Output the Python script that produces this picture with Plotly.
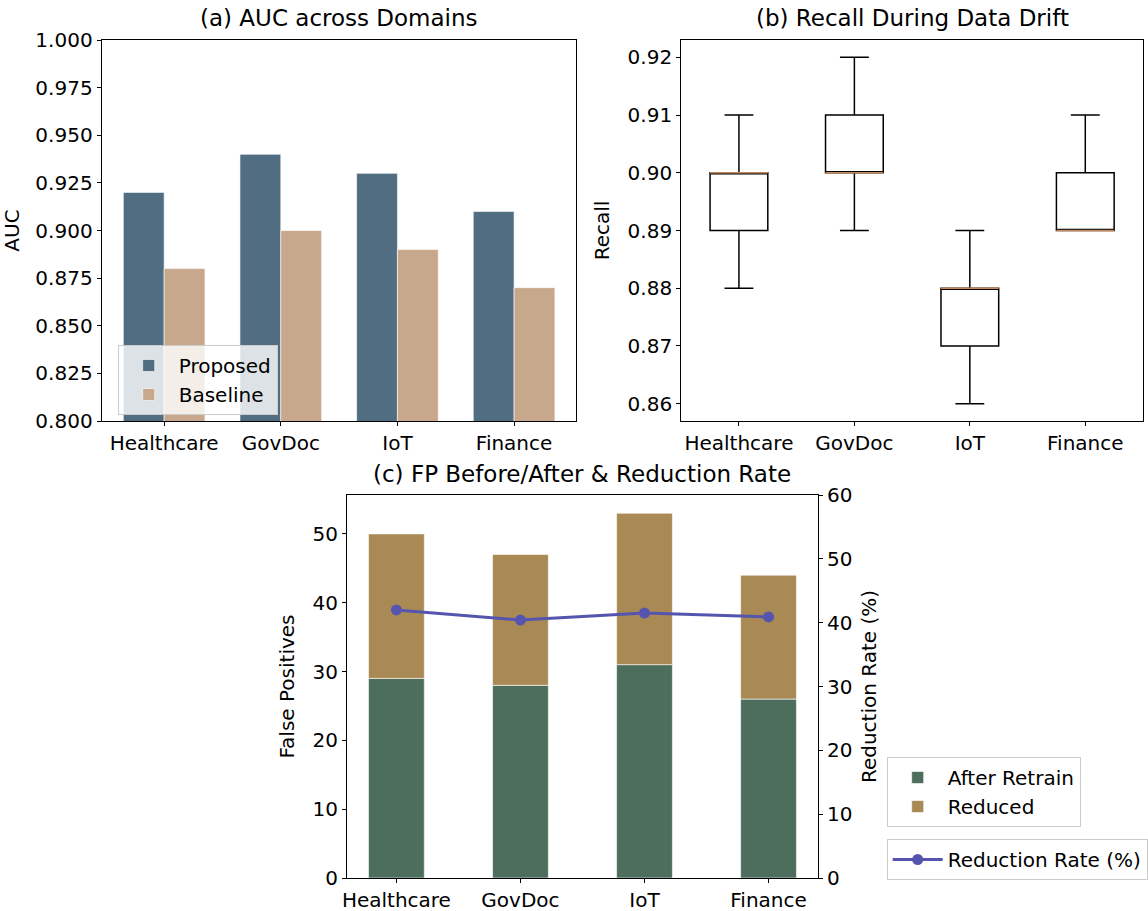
import plotly.graph_objects as go

domains = ["Healthcare", "GovDoc", "IoT", "Finance"]

# (a) AUC
auc_proposed = [0.92, 0.94, 0.93, 0.91]
auc_baseline = [0.88, 0.90, 0.89, 0.87]

# (b) Recall box stats
rec_low = [0.88, 0.89, 0.86, 0.89]
rec_q1 = [0.89, 0.90, 0.87, 0.89]
rec_med = [0.90, 0.90, 0.88, 0.89]
rec_q3 = [0.90, 0.91, 0.88, 0.90]
rec_high = [0.91, 0.92, 0.89, 0.91]

# (c) False positives
fp_after = [29, 28, 31, 26]
fp_reduced = [21, 19, 22, 18]
reduction_rate = [42.0, 40.4, 41.5, 40.9]

W, H = 1148, 911
def xd(a, b):
    return [a / W, b / W]
def yd(top, bot):
    return [1 - bot / H, 1 - top / H]

FONT = "DejaVu Sans"
TICK = 20
TITLE = 23
C_PROP = "#516d82"
C_BASE = "#c8a88c"
C_AFTER = "#4e6e5d"
C_RED = "#a98a55"
C_LINE = "#5555b0"

fig = go.Figure()
idx = list(range(len(domains)))
bw = 0.35

# (a)
fig.add_trace(go.Bar(x=[i - bw / 2 for i in idx], y=auc_proposed, width=bw, name="Proposed",
                     marker=dict(color=C_PROP, line=dict(color="white", width=0.6)),
                     xaxis="x", yaxis="y", legend="legend"))
fig.add_trace(go.Bar(x=[i + bw / 2 for i in idx], y=auc_baseline, width=bw, name="Baseline",
                     marker=dict(color=C_BASE, line=dict(color="white", width=0.6)),
                     xaxis="x", yaxis="y", legend="legend"))

# (b)
pos = [i + 1 for i in idx]
fig.add_trace(go.Box(x=pos, q1=rec_q1, median=rec_med, q3=rec_q3,
                     lowerfence=rec_low, upperfence=rec_high,
                     width=0.5, whiskerwidth=0.5, fillcolor="white",
                     line=dict(color="black", width=1.5), boxpoints=False,
                     showlegend=False, xaxis="x2", yaxis="y2"))
mx, my = [], []
for p, m in zip(pos, rec_med):
    mx += [p - 0.25, p + 0.25, None]
    my += [m, m, None]
fig.add_trace(go.Scatter(x=mx, y=my, mode="lines", line=dict(color="#c8895a", width=1.5),
                         showlegend=False, hoverinfo="skip", xaxis="x2", yaxis="y2"))

# (c)
cw = 0.45
fig.add_trace(go.Bar(x=idx, y=fp_after, width=cw, name="After Retrain",
                     marker=dict(color=C_AFTER, line=dict(color="white", width=0.6)),
                     xaxis="x3", yaxis="y3", legend="legend2"))
fig.add_trace(go.Bar(x=idx, y=fp_reduced, base=fp_after, width=cw, name="Reduced",
                     marker=dict(color=C_RED, line=dict(color="white", width=0.6)),
                     xaxis="x3", yaxis="y3", legend="legend2"))
fig.add_trace(go.Scatter(x=idx, y=reduction_rate, mode="lines+markers", name="Reduction Rate (%)",
                         line=dict(color=C_LINE, width=3), marker=dict(size=11, color=C_LINE),
                         xaxis="x3", yaxis="y4", legend="legend3"))

axis_common = dict(showline=True, linecolor="black", linewidth=1.2, mirror=True,
                   ticks="outside", ticklen=4, tickwidth=1.2, tickcolor="black",
                   showgrid=False, zeroline=False,
                   tickfont=dict(family=FONT, size=TICK, color="black"), automargin=False)

leg_common = dict(xanchor="left", yanchor="top", bgcolor="rgba(255,255,255,0.8)",
                  bordercolor="#cccccc", borderwidth=1, font=dict(family=FONT, size=TICK),
                  itemwidth=50, traceorder="normal")

fig.update_layout(
    width=W, height=H, margin=dict(l=0, r=0, t=0, b=0),
    paper_bgcolor="white", plot_bgcolor="white", barmode="overlay",
    font=dict(family=FONT, color="black"),
    xaxis=dict(domain=xd(102, 578), range=[-0.535, 3.535], tickvals=idx, ticktext=domains,
               anchor="y", **axis_common),
    yaxis=dict(domain=yd(40, 421), range=[0.8, 1.0], tickvals=[0.8 + 0.025 * k for k in range(9)],
               tickformat=".3f", anchor="x",
               title=dict(text="AUC", font=dict(family=FONT, size=TICK), standoff=12), **axis_common),
    xaxis2=dict(domain=xd(683, 1146), range=[0.5, 4.5], tickvals=pos, ticktext=domains,
                anchor="y2", **axis_common),
    yaxis2=dict(domain=yd(40, 421), range=[0.857, 0.923], tickvals=[0.86, 0.87, 0.88, 0.89, 0.90, 0.91, 0.92],
                tickformat=".2f", anchor="x2",
                title=dict(text="Recall", font=dict(family=FONT, size=TICK), standoff=12), **axis_common),
    xaxis3=dict(domain=xd(348, 820), range=[-0.3975, 3.3975], tickvals=idx, ticktext=domains,
                anchor="y3", **axis_common),
    yaxis3=dict(domain=yd(495, 878), range=[0, 55.65], tickvals=[0, 10, 20, 30, 40, 50],
                anchor="x3",
                title=dict(text="False Positives", font=dict(family=FONT, size=TICK), standoff=12),
                **{**axis_common, "mirror": False}),
    yaxis4=dict(domain=yd(495, 878), range=[0, 60], tickvals=[0, 10, 20, 30, 40, 50, 60],
                anchor="x3", overlaying="y3", side="right",
                title=dict(text="Reduction Rate (%)", font=dict(family=FONT, size=TICK), standoff=10),
                **{**axis_common, "mirror": False}),
    legend=dict(x=118 / W, y=1 - 345 / H, **leg_common),
    legend2=dict(x=889 / W, y=1 - 757 / H, **leg_common),
    legend3=dict(x=889 / W, y=1 - 839 / H, **leg_common),
    annotations=[
        dict(text="(a) AUC across Domains", x=(102 + 578) / 2 / W, y=1 - 33 / H, xref="paper", yref="paper",
             xanchor="center", yanchor="bottom", showarrow=False, font=dict(family=FONT, size=TITLE)),
        dict(text="(b) Recall During Data Drift", x=(683 + 1146) / 2 / W, y=1 - 33 / H, xref="paper", yref="paper",
             xanchor="center", yanchor="bottom", showarrow=False, font=dict(family=FONT, size=TITLE)),
        dict(text="(c) FP Before/After & Reduction Rate", x=(348 + 820) / 2 / W, y=1 - 489 / H, xref="paper",
             yref="paper", xanchor="center", yanchor="bottom", showarrow=False, font=dict(family=FONT, size=TITLE)),
    ],
)

fig.write_html("out.html")
